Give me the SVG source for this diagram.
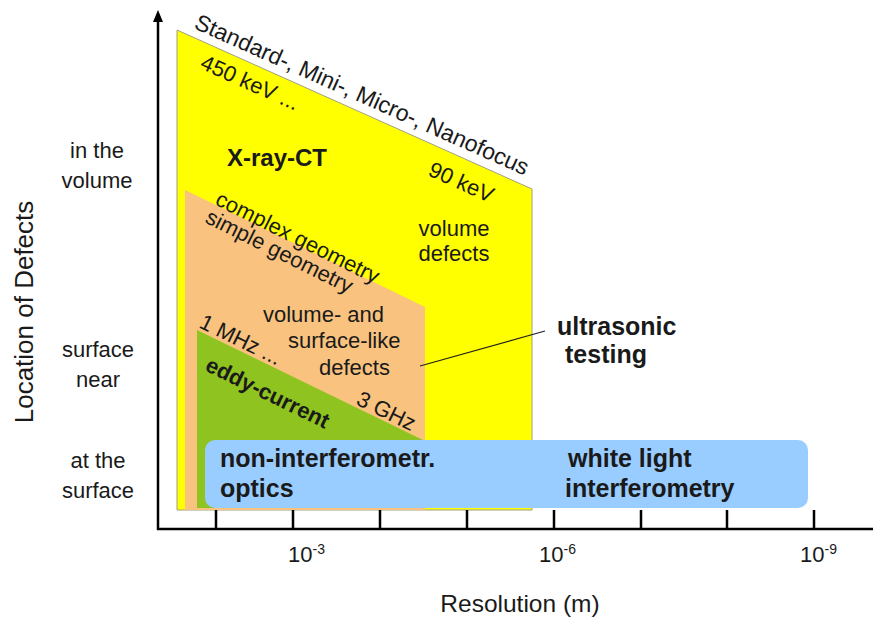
<svg xmlns="http://www.w3.org/2000/svg" width="873" height="621" viewBox="0 0 873 621">
<style>
text{font-family:"Liberation Sans",Arial,sans-serif;fill:#1a1a1a}
.r{font-size:22px}
.b{font-size:25px;font-weight:bold}
.ax{stroke:#000;stroke-width:2.5;fill:none}
</style>
<rect width="873" height="621" fill="#fff"/>
<g id="xray-ct">
<polygon points="177,30 532,189 532,510 177,510" fill="#ffff00" stroke="#a0a080" stroke-width="1"/>
<text font-size="23" transform="translate(193,28) rotate(24)">Standard-,  Mini-,  Micro-, Nanofocus</text>
<text class="r" transform="translate(199,68) rotate(24)">450 keV ...</text>
<text class="r" transform="translate(427,175) rotate(24)">90 keV</text>
<text font-size="24" font-weight="bold" x="227" y="166">X-ray-CT</text>
<text class="r" x="454" y="236" text-anchor="middle">volume</text>
<text class="r" x="454" y="261" text-anchor="middle">defects</text>
</g>
<g id="ultrasonic">
<polygon points="185,190 425,307 425,510 185,510" fill="#f9c37f"/>
<text class="r" transform="translate(214,204) rotate(26.5)">complex geometry</text>
<text class="r" transform="translate(204,222) rotate(26.5)">simple geometry</text>
<text class="r" x="263" y="322">volume- and</text>
<text class="r" x="288" y="348">surface-like</text>
<text class="r" x="319" y="375">defects</text>
<text class="r" transform="translate(355,404) rotate(26)">3 GHz</text>
</g>
<g id="eddy-current">
<polygon points="197,330 425,441 425,508 197,508" fill="#8fc31f"/>
<text class="r" transform="translate(198,327) rotate(26)">1 MHz ...</text>
<text font-size="22" font-weight="bold" transform="translate(204,370) rotate(26)">eddy-current</text>
</g>
<g id="optics">
<rect x="205" y="440" width="603" height="68" rx="10" fill="#99ccff"/>
<text class="b" x="220" y="467">non-interferometr.</text>
<text class="b" x="220" y="497">optics</text>
<text class="b" x="568" y="467">white light</text>
<text class="b" x="565" y="497">interferometry</text>
</g>
<g id="ultrasonic-label">
<text class="b" x="557" y="335">ultrasonic</text>
<text class="b" x="565" y="363">testing</text>
</g>
<g id="connectors">
<line x1="420" y1="366" x2="545" y2="331" stroke="#222" stroke-width="1.2"/>
</g>
<g id="axes">
<line class="ax" x1="158" y1="530" x2="158" y2="20"/>
<polygon points="158,10 153,22 163,22" fill="#000"/>
<line class="ax" x1="157" y1="529" x2="873" y2="529"/>
<path class="ax" d="M216,510V529M293,510V529M380,510V529M467,510V529M554,510V529M641,510V529M727,510V529M814,510V529"/>
<text class="r" x="288" y="562">10<tspan font-size="14" dy="-8">-3</tspan></text>
<text class="r" x="539" y="562">10<tspan font-size="14" dy="-8">-6</tspan></text>
<text class="r" x="800" y="562">10<tspan font-size="14" dy="-8">-9</tspan></text>
<text font-size="24.5" x="520" y="612" text-anchor="middle">Resolution (m)</text>
<text font-size="26" transform="translate(33,312) rotate(-90)" text-anchor="middle">Location of Defects</text>
<text class="r" x="97" y="158" text-anchor="middle">in the</text>
<text class="r" x="97" y="188" text-anchor="middle">volume</text>
<text class="r" x="98" y="357" text-anchor="middle">surface</text>
<text class="r" x="98" y="387" text-anchor="middle">near</text>
<text class="r" x="98" y="468" text-anchor="middle">at the</text>
<text class="r" x="98" y="498" text-anchor="middle">surface</text>
</g>
</svg>
